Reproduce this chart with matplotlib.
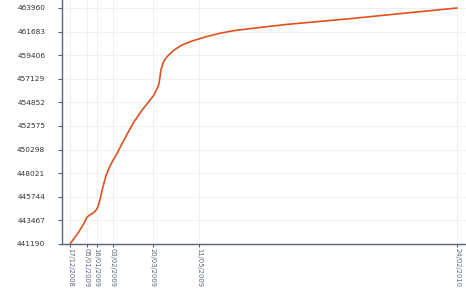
import matplotlib
matplotlib.use("Agg")
import matplotlib.pyplot as plt
import pandas as pd

dates = ["2008-12-17", "2008-12-27", "2009-01-02", "2009-01-05", "2009-01-08",
         "2009-01-11", "2009-01-14", "2009-01-16", "2009-01-18", "2009-01-20",
         "2009-01-22", "2009-01-26", "2009-01-30", "2009-02-03", "2009-02-08",
         "2009-02-12", "2009-02-19", "2009-02-26", "2009-03-08", "2009-03-17",
         "2009-03-21", "2009-03-24", "2009-03-26", "2009-03-27", "2009-03-29",
         "2009-04-01", "2009-04-04", "2009-04-07", "2009-04-11", "2009-04-16",
         "2009-04-21", "2009-04-27", "2009-05-03", "2009-05-10", "2009-05-20",
         "2009-06-03", "2009-06-15", "2009-06-26", "2009-08-15", "2009-10-27",
         "2009-12-25", "2010-02-24"]
values = [441190, 442380, 443250, 443770, 443990,
          444120, 444330, 444560, 444950, 445600,
          446400, 447690, 448560, 449240, 449960,
          450660, 451780, 452880, 454130, 455100,
          455560, 456070, 456450, 456800, 458000,
          458800, 459180, 459450, 459800, 460090,
          460360, 460580, 460780, 460960, 461220,
          461520, 461720, 461860, 462360, 462930,
          463440, 463960]

tick_dates = ["2008-12-17", "2009-01-05", "2009-01-16", "2009-02-03",
              "2009-03-20", "2009-05-11", "2010-02-24"]
tick_labels = ["17/12/2008", "05/01/2009", "16/01/2009", "03/02/2009",
               "20/03/2009", "11/05/2009", "24/02/2010"]
y_ticks = [441190, 443467, 445744, 448021, 450298, 452575, 454852,
           457129, 459406, 461683, 463960]

x = pd.to_datetime(dates)
xt = pd.to_datetime(tick_dates)

W, H = 466, 291
fig = plt.figure(figsize=(W / 100, H / 100), dpi=100)
ax = fig.add_axes([62 / W, (H - 244) / H, (W - 62) / W, 244 / H])

ax.plot(x, values, color="#e0501e", lw=1.2, solid_joinstyle="round",
        solid_capstyle="round", zorder=3, clip_on=False, antialiased=True)

ax.set_ylim(441190, 441190 + 244 / 236 * 22770)
ax.set_xlim(pd.Timestamp("2008-12-08"), pd.Timestamp("2010-03-06"))

ax.set_yticks(y_ticks)
ax.set_yticklabels([str(v) for v in y_ticks])
ax.set_xticks(xt)
ax.set_xticklabels(tick_labels, rotation=-90, va="top", ha="center")

ax.grid(True, color="#eeeeee", lw=0.6)
ax.set_axisbelow(True)

for s in ["top", "right"]:
    ax.spines[s].set_visible(False)
for s in ["left", "bottom"]:
    ax.spines[s].set_color("#5a6472")
    ax.spines[s].set_linewidth(1.0)

ax.tick_params(axis="y", direction="out", length=3, width=0.8,
               color="#5a6472", labelsize=5.3, labelcolor="#333333", pad=9)
ax.tick_params(axis="x", direction="out", length=2.5, width=0.8,
               color="#5a6472", labelsize=4.9, labelcolor="#5a6478", pad=0.5)

fig.savefig("out.png", dpi=100)
